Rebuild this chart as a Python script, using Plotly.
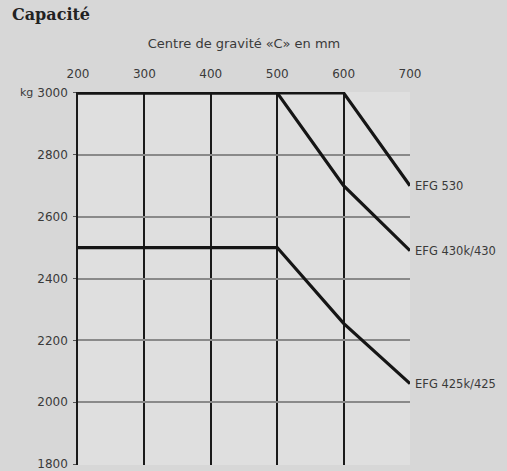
import plotly.graph_objects as go

x_ticks = [200, 300, 400, 500, 600, 700]
y_ticks = [1800, 2000, 2200, 2400, 2600, 2800, 3000]

efg530_x = [200, 600, 700]
efg530_y = [3000, 3000, 2700]
efg430_x = [200, 500, 600, 700]
efg430_y = [3000, 3000, 2700, 2490]
efg425_x = [200, 500, 600, 700]
efg425_y = [2500, 2500, 2255, 2060]
labels = ["EFG 530", "EFG 430k/430", "EFG 425k/425"]

PAPER = "#d7d7d7"
PLOT = "#dfdfdf"
FONT = "DejaVu Sans"
fig = go.Figure()
for xs, ys in [(efg530_x, efg530_y), (efg430_x, efg430_y), (efg425_x, efg425_y)]:
    fig.add_trace(go.Scatter(x=xs, y=ys, mode="lines", cliponaxis=False,
                             line=dict(color="#151515", width=3.2), showlegend=False,
                             hoverinfo="skip"))

for lab, ys in zip(labels, [efg530_y, efg430_y, efg425_y]):
    fig.add_annotation(x=700, y=ys[-1], text=lab, xref="x", yref="y", showarrow=False,
                       xanchor="left", xshift=3, font=dict(size=11.5, color="#3a3a3a", family=FONT))

fig.add_annotation(x=200, y=3000, xref="x", yref="y", text="kg", showarrow=False,
                   xanchor="right", xshift=-43, font=dict(size=11, color="#3a3a3a", family=FONT))

fig.update_layout(
    width=507, height=471,
    paper_bgcolor=PAPER, plot_bgcolor=PLOT,
    margin=dict(l=78, r=97, t=92, b=6, autoexpand=False),
    title=dict(text="<b>Capacité</b>", x=12 / 507, xref="container", xanchor="left",
               y=1 - 9 / 471, yref="container", yanchor="top",
               font=dict(size=16, color="#222", family="DejaVu Serif")),
    xaxis=dict(range=[200, 700], side="top", tickvals=x_ticks, ticktext=[str(v) for v in x_ticks],
               showgrid=True, gridcolor="#1a1a1a", gridwidth=1.6, zeroline=False,
               showline=False, automargin=False,
               ticks="", ticklabelstandoff=11,
               tickfont=dict(size=12, color="#3a3a3a", family=FONT),
               title=dict(text="Centre de gravité «C» en mm", standoff=15,
                          font=dict(size=13, color="#3a3a3a", family=FONT))),
    yaxis=dict(range=[1797, 3003], tickvals=y_ticks, ticktext=[str(v) for v in y_ticks],
               showgrid=True, gridcolor="#8a8a8a", gridwidth=1.6, zeroline=False,
               showline=True, linecolor="#1a1a1a", linewidth=1.6, automargin=False,
               ticks="outside", ticklen=3, tickcolor="#555", ticklabelstandoff=3,
               ticklabeloverflow="allow",
               tickfont=dict(size=12, color="#3a3a3a", family=FONT)),
)
fig.write_html("out.html", config={"displayModeBar": False},
               post_script="document.body.style.margin='0';")
